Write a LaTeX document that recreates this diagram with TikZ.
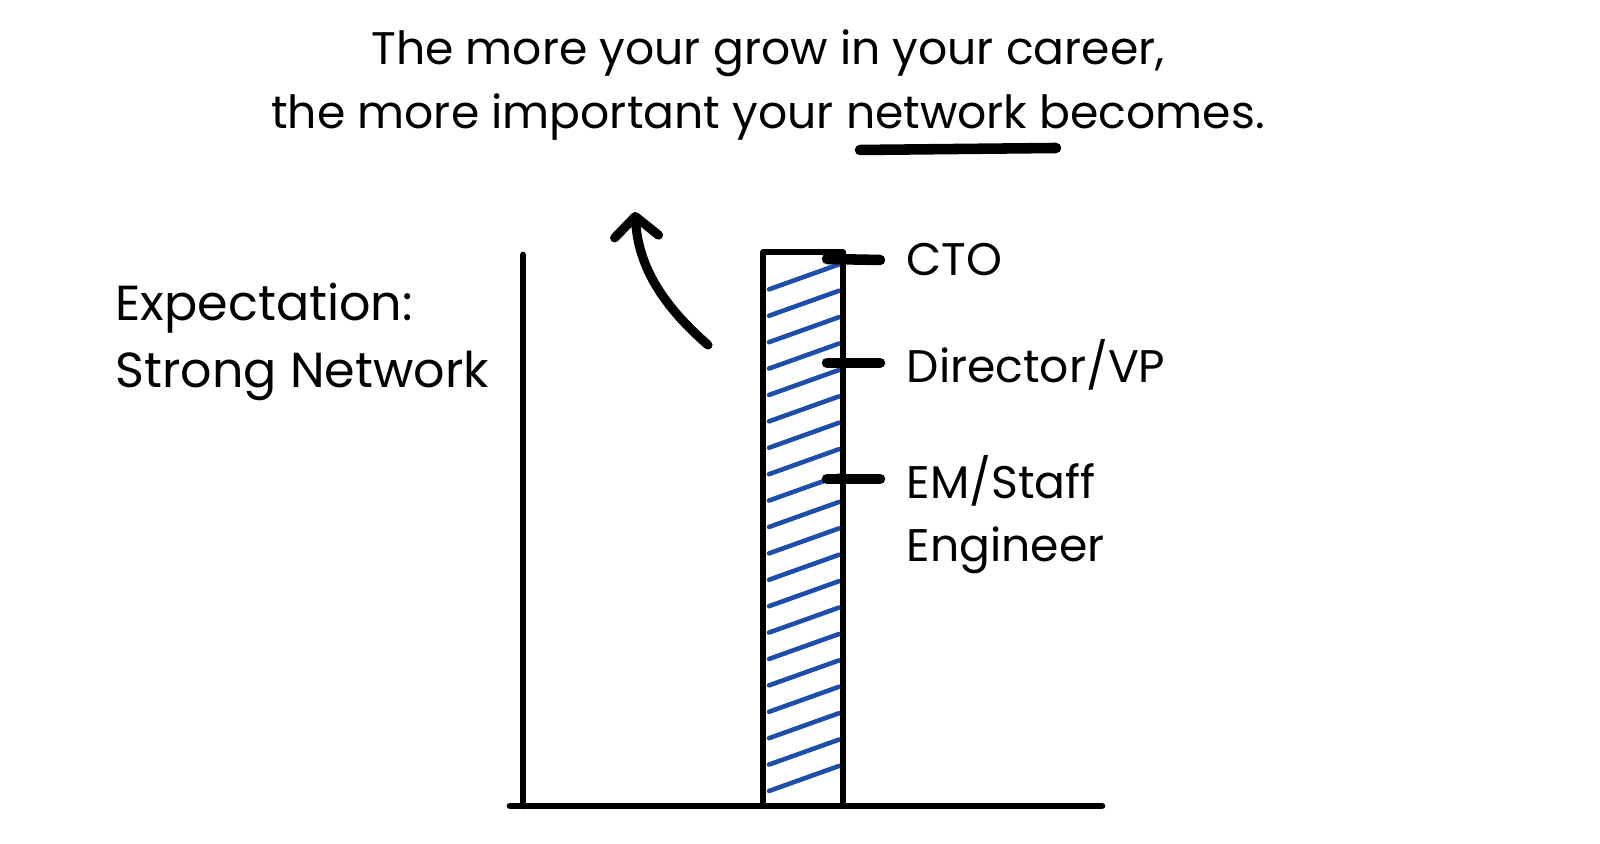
\documentclass[tikz,border=0pt]{standalone}
\usepackage{fontspec}
\setmainfont{Poppins}
\usetikzlibrary{arrows.meta}
\definecolor{trazo}{RGB}{28,78,170}
\tikzset{
  rotulo/.style={font=\fontsize{13}{18}\selectfont, inner sep=0pt},
  raya/.style={line width=3pt},
  rayado/.style={draw=trazo, line width=1.3pt}
}
\begin{document}
\begin{tikzpicture}[line cap=round, line join=round]
  \useasboundingbox (0,0) rectangle (16,8.44);
  % el titulo
  \node[rotulo, align=center] (titulo) at (7.68,7.59)
    {The more your grow in your career,\\the more important your network becomes.};
  \coordinate (sub-a) at (8.60,6.94); \coordinate (sub-b) at (10.56,6.96);
  \draw[raya] (sub-a) -- (sub-b);
  % los ejes
  \coordinate (eje-n) at (5.23,5.89); \coordinate (eje-s) at (5.23,0.38);
  \coordinate (base-w) at (5.10,0.38); \coordinate (base-e) at (11.02,0.38);
  \draw[line width=1.9pt] (eje-n) -- (eje-s);
  \draw[line width=1.9pt] (base-w) -- (base-e);
  % la barra y su rayado
  \foreach \i in {0,...,19} {
    \draw[rayado] (7.69,0.53+\i*0.264) -- (8.39,0.78+\i*0.264);
  }
  \coordinate (barra-sw) at (7.63,0.38); \coordinate (barra-ne) at (8.43,5.92);
  \draw[line width=1.5pt] (barra-sw) rectangle (barra-ne);
  % las marcas
  \coordinate (cto-a) at (8.27,5.85); \coordinate (cto-b) at (8.80,5.84);
  \coordinate (dir-a) at (8.27,4.81); \coordinate (dir-b) at (8.80,4.81);
  \coordinate (em-a) at (8.27,3.65);  \coordinate (em-b) at (8.80,3.65);
  \draw[raya] (cto-a) -- (cto-b);
  \draw[raya] (dir-a) -- (dir-b);
  \draw[raya] (em-a) -- (em-b);
  \node[rotulo, anchor=west] (cto) at (9.06,5.84) {CTO};
  \node[rotulo, anchor=west] (dir) at (9.06,4.79) {Director/VP};
  \node[rotulo, anchor=west, align=left] (em) at (9.06,3.29) {EM/Staff\\Engineer};
  % la expectativa
  \node[rotulo, font=\fontsize{14}{19}\selectfont, anchor=west, align=left] (expect) at (1.15,5.02)
    {Expectation:\\Strong Network};
  % la flecha
  \coordinate (flecha-a) at (7.08,4.99); \coordinate (flecha-b) at (6.35,6.32);
  \draw[line width=2.6pt, -{Straight Barb[length=2mm, width=4.4mm, round]}]
    (flecha-a) .. controls (6.55,5.45) and (6.38,5.85) .. (flecha-b);
\end{tikzpicture}
\end{document}
